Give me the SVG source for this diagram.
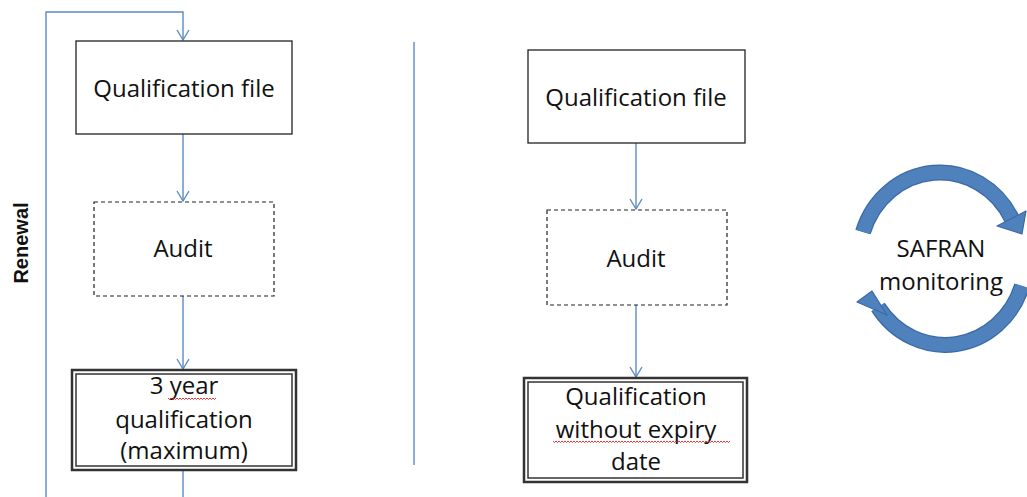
<svg xmlns="http://www.w3.org/2000/svg" width="1027" height="497" viewBox="0 0 1027 497">
<style>
.t{font-family:"Open Sans","Liberation Sans",sans-serif;font-size:24px;fill:#111;text-anchor:middle}
.box{fill:#fff;stroke:#222;stroke-width:1.3}
.dash{fill:#fff;stroke:#222;stroke-width:1.2;stroke-dasharray:4 3}
.dbo{fill:#fff;stroke:#333;stroke-width:2.5}
.dbi{fill:none;stroke:#333;stroke-width:1.5}
.con{fill:none;stroke:#5b8ac6;stroke-width:1.4}
.wave{fill:none;stroke:#e02020;stroke-width:0.9}
.band{fill:none;stroke:#3a6aa6;stroke-width:16}
.bandi{fill:none;stroke:#4f81bd;stroke-width:13.5}
.head{fill:#4f81bd;stroke:#3a6aa6;stroke-width:1.2;stroke-linejoin:round}
</style>
<defs>
<marker id="ah" markerWidth="14" markerHeight="14" refX="12" refY="7" orient="auto" markerUnits="userSpaceOnUse" viewBox="0 0 14 14">
<path d="M2,1 L12,7 L2,13" fill="none" stroke="#5b8ac6" stroke-width="1.4"/>
</marker>
</defs>
<g id="connectors">
<path class="con" d="M46,497 V12 H183 V40" marker-end="url(#ah)"/>
<path class="con" d="M183,134 V201" marker-end="url(#ah)"/>
<path class="con" d="M183,296 V369" marker-end="url(#ah)"/>
<path class="con" d="M183,470 V497"/>
<path class="con" d="M414,42 V465"/>
<path class="con" d="M636,143 V209" marker-end="url(#ah)"/>
<path class="con" d="M636,305 V377" marker-end="url(#ah)"/>
</g>
<g id="renewal">
<text class="t" transform="translate(28,243) rotate(-90)" style="font-family:'Liberation Sans',sans-serif;font-size:20px;font-weight:bold">Renewal</text>
</g>
<g id="n1">
<rect class="box" x="76" y="41" width="216" height="93"/>
<text class="t" x="184" y="97">Qualification file</text>
</g>
<g id="n2">
<rect class="dash" x="94" y="202" width="180" height="94"/>
<text class="t" x="183" y="257">Audit</text>
</g>
<g id="n3">
<rect class="dbo" x="72" y="370" width="224" height="100"/>
<rect class="dbi" x="76" y="374" width="216" height="92"/>
<text class="t" x="184" y="394">3 year</text>
<text class="t" x="184" y="428">qualification</text>
<text class="t" x="184" y="459">(maximum)</text>
<path class="wave" d="M168,398 l1.5,1.5 l1.5,-1.5 l1.5,1.5 l1.5,-1.5 l1.5,1.5 l1.5,-1.5 l1.5,1.5 l1.5,-1.5 l1.5,1.5 l1.5,-1.5 l1.5,1.5 l1.5,-1.5 l1.5,1.5 l1.5,-1.5 l1.5,1.5 l1.5,-1.5 l1.5,1.5 l1.5,-1.5 l1.5,1.5 l1.5,-1.5 l1.5,1.5 l1.5,-1.5 l1.5,1.5 l1.5,-1.5 l1.5,1.5 l1.5,-1.5 l1.5,1.5 l1.5,-1.5 l1.5,1.5 l1.5,-1.5 l1.5,1.5 l1.5,-1.5"/>
</g>
<g id="n4">
<rect class="box" x="528" y="50" width="217" height="93"/>
<text class="t" x="636" y="106">Qualification file</text>
</g>
<g id="n5">
<rect class="dash" x="547" y="210" width="180" height="95"/>
<text class="t" x="636" y="267">Audit</text>
</g>
<g id="n6">
<rect class="dbo" x="524" y="378" width="223" height="104"/>
<rect class="dbi" x="528" y="382" width="215" height="96"/>
<text class="t" x="636" y="405">Qualification</text>
<text class="t" x="636" y="438">without expiry</text>
<text class="t" x="636" y="470">date</text>
<path class="wave" d="M553,441 l1.5,1.5 l1.5,-1.5 l1.5,1.5 l1.5,-1.5 l1.5,1.5 l1.5,-1.5 l1.5,1.5 l1.5,-1.5 l1.5,1.5 l1.5,-1.5 l1.5,1.5 l1.5,-1.5 l1.5,1.5 l1.5,-1.5 l1.5,1.5 l1.5,-1.5 l1.5,1.5 l1.5,-1.5 l1.5,1.5 l1.5,-1.5 l1.5,1.5 l1.5,-1.5 l1.5,1.5 l1.5,-1.5 l1.5,1.5 l1.5,-1.5 l1.5,1.5 l1.5,-1.5 l1.5,1.5 l1.5,-1.5 l1.5,1.5 l1.5,-1.5 l1.5,1.5 l1.5,-1.5 l1.5,1.5 l1.5,-1.5 l1.5,1.5 l1.5,-1.5 l1.5,1.5 l1.5,-1.5 l1.5,1.5 l1.5,-1.5 l1.5,1.5 l1.5,-1.5 l1.5,1.5 l1.5,-1.5 l1.5,1.5 l1.5,-1.5 l1.5,1.5 l1.5,-1.5 l1.5,1.5 l1.5,-1.5 l1.5,1.5 l1.5,-1.5 l1.5,1.5 l1.5,-1.5 l1.5,1.5 l1.5,-1.5 l1.5,1.5 l1.5,-1.5 l1.5,1.5 l1.5,-1.5 l1.5,1.5 l1.5,-1.5 l1.5,1.5 l1.5,-1.5 l1.5,1.5 l1.5,-1.5 l1.5,1.5 l1.5,-1.5 l1.5,1.5 l1.5,-1.5 l1.5,1.5 l1.5,-1.5 l1.5,1.5 l1.5,-1.5 l1.5,1.5 l1.5,-1.5 l1.5,1.5 l1.5,-1.5 l1.5,1.5 l1.5,-1.5 l1.5,1.5 l1.5,-1.5 l1.5,1.5 l1.5,-1.5 l1.5,1.5 l1.5,-1.5 l1.5,1.5 l1.5,-1.5 l1.5,1.5 l1.5,-1.5 l1.5,1.5 l1.5,-1.5 l1.5,1.5 l1.5,-1.5 l1.5,1.5 l1.5,-1.5 l1.5,1.5 l1.5,-1.5 l1.5,1.5 l1.5,-1.5 l1.5,1.5 l1.5,-1.5 l1.5,1.5 l1.5,-1.5 l1.5,1.5 l1.5,-1.5 l1.5,1.5 l1.5,-1.5 l1.5,1.5 l1.5,-1.5 l1.5,1.5 l1.5,-1.5 l1.5,1.5 l1.5,-1.5 l1.5,1.5 l1.5,-1.5"/>
</g>
<g id="safran">
<path class="band" d="M863,232 A81,86 0 0 1 1012,219"/>
<path class="bandi" d="M863,232 A81,86 0 0 1 1012,219"/>
<polygon class="head" points="1026,211 1022,234 997,226"/>
<path class="band" d="M1022,286 A81,86 0 0 1 878,307"/>
<path class="bandi" d="M1022,286 A81,86 0 0 1 878,307"/>
<polygon class="head" points="857,302 872,291 887,315"/>
<text class="t" x="941" y="257">SAFRAN</text>
<text class="t" x="941" y="290">monitoring</text>
</g>
</svg>
